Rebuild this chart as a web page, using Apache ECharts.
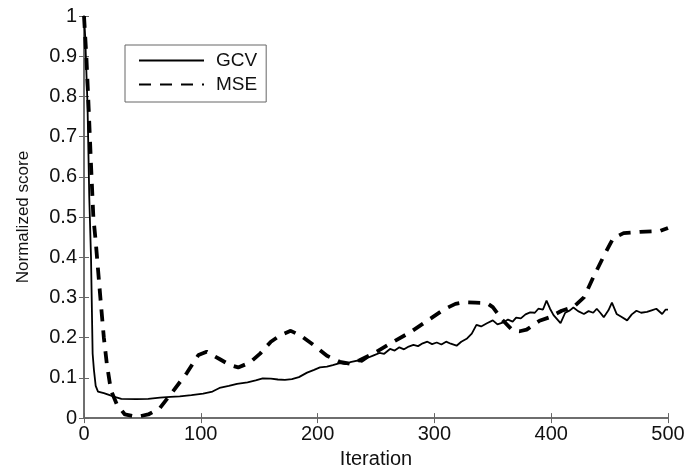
<!DOCTYPE html>
<html>
<head>
<meta charset="utf-8">
<script src="https://cdn.jsdelivr.net/npm/echarts@6/dist/echarts.min.js"></script>
<style>
  html, body { margin: 0; padding: 0; background: #fff; }
  #chart { width: 689px; height: 474px; }
</style>
</head>
<body>
<div id="chart"></div>
<script>
// values
const seriesNames = ['GCV', 'MSE'];
const xTicks = [0, 100, 200, 300, 400, 500];

const gcvIter = [0, 1, 3, 4.5, 6, 7.4, 8.5, 10, 12, 17, 22, 27, 32, 45, 55, 65, 74, 82, 92, 102,
  110, 116, 124, 131, 140, 147, 153, 160, 166, 172, 178, 184, 191, 197, 202, 208, 213, 219, 224, 228,
  234, 238, 243, 248, 253, 257, 262, 266, 270, 274, 278, 282, 286, 290, 294, 298, 302, 306, 310, 314,
  319, 323, 328, 332, 336, 340, 345, 350, 354, 359, 363, 367, 370, 374, 378, 382, 386, 389, 393, 396,
  399, 402, 405, 408, 412, 416, 419, 423, 428, 432, 436, 439, 442, 445, 449, 452, 456, 460, 465, 469,
  473, 477, 482, 486, 490, 495, 498, 500];
const gcvScore = [1.0, 0.95, 0.78, 0.55, 0.4, 0.16, 0.12, 0.08, 0.066, 0.062, 0.057, 0.052, 0.048, 0.047, 0.048, 0.051, 0.053, 0.054, 0.057, 0.061,
  0.066, 0.075, 0.08, 0.085, 0.089, 0.094, 0.099, 0.098, 0.096, 0.095, 0.097, 0.102, 0.113, 0.12, 0.126, 0.128, 0.132, 0.137, 0.134, 0.139,
  0.143, 0.14, 0.15, 0.156, 0.162, 0.16, 0.172, 0.168, 0.176, 0.171, 0.178, 0.182, 0.179, 0.186, 0.19, 0.184, 0.188, 0.183, 0.19, 0.185,
  0.18, 0.19, 0.198, 0.21, 0.232, 0.228, 0.236, 0.243, 0.233, 0.238, 0.245, 0.24, 0.25, 0.248, 0.258, 0.263, 0.262, 0.272, 0.27, 0.292,
  0.272, 0.256, 0.246, 0.236, 0.262, 0.268, 0.275, 0.266, 0.259, 0.266, 0.262, 0.272, 0.262, 0.251, 0.268, 0.287, 0.259, 0.252, 0.243, 0.258,
  0.267, 0.262, 0.264, 0.268, 0.272, 0.259, 0.27, 0.27];

const mseIter = [0, 2, 4, 6, 8, 10, 12, 14, 17, 19.5, 23, 28, 35, 45, 55, 65, 76, 88, 98, 105,
  116, 125, 132, 142, 151, 160, 168, 177, 185, 196, 208, 219, 228, 236, 248, 262, 279, 296, 308, 318,
  325, 335, 345, 350, 358, 367, 373, 379, 390, 398, 409, 419, 428, 436, 445, 453, 462, 476, 493, 500];
const mseScore = [1.0, 0.9, 0.77, 0.63, 0.5, 0.44, 0.37, 0.3, 0.2, 0.136, 0.07, 0.035, 0.009, 0.003, 0.009, 0.025, 0.066, 0.112, 0.157, 0.165,
  0.147, 0.132, 0.126, 0.138, 0.161, 0.19, 0.206, 0.217, 0.206, 0.183, 0.155, 0.14, 0.135, 0.144, 0.161, 0.185, 0.213, 0.246, 0.27, 0.284,
  0.288, 0.287, 0.286, 0.276, 0.245, 0.218, 0.216, 0.22, 0.242, 0.25, 0.267, 0.276, 0.3, 0.35, 0.403, 0.447, 0.46, 0.463, 0.465, 0.473];

const pair = (xs, ys) => xs.map((x, i) => [x, ys[i]]);

const chart = echarts.init(document.getElementById('chart'), null, { renderer: 'canvas' });

const axisGray = '#666';
const font = 'Liberation Sans, Arial, sans-serif';

const frameAxis = {
  type: 'value',
  min: 0,
  axisLine: { show: true, lineStyle: { color: axisGray, width: 1.5 } },
  axisTick: { show: true, inside: true, length: 5, lineStyle: { color: axisGray, width: 1 } },
  splitLine: { show: false },
};

const option = {
  backgroundColor: '#fff',
  animation: false,
  grid: { left: 84, right: 21, top: 16, bottom: 52 },
  legend: {
    data: seriesNames,
    orient: 'vertical',
    left: 125,
    top: 45,
    padding: [6, 9, 8, 13],
    itemGap: 5,
    itemWidth: 65,
    itemHeight: 14,
    borderColor: axisGray,
    borderWidth: 1,
    backgroundColor: '#fff',
    // hide the marker dot, keep only the line sample
    itemStyle: { opacity: 0 },
    textStyle: { fontFamily: font, fontSize: 19, color: '#111', padding: [0, 0, 0, 7] },
  },
  xAxis: [
    Object.assign({}, frameAxis, {
      position: 'bottom',
      max: xTicks[xTicks.length - 1],
      interval: 100,
      name: 'Iteration',
      nameLocation: 'middle',
      nameGap: 27,
      nameTextStyle: { fontFamily: font, fontSize: 20, color: '#111' },
      axisLabel: { margin: 6, fontFamily: font, fontSize: 20, color: '#111' },
    }),
    Object.assign({}, frameAxis, {
      position: 'top',
      max: 500,
      interval: 100,
      axisLabel: { show: false },
    }),
  ],
  yAxis: [
    Object.assign({}, frameAxis, {
      position: 'left',
      max: 1,
      interval: 0.1,
      name: 'Normalized score',
      nameLocation: 'middle',
      nameGap: 52,
      nameTextStyle: { fontFamily: font, fontSize: 17, color: '#111' },
      axisLabel: {
        margin: 7, fontFamily: font, fontSize: 20, color: '#111',
        formatter: v => String(Math.round(v * 10) / 10),
      },
    }),
    Object.assign({}, frameAxis, {
      position: 'right',
      max: 1,
      interval: 0.1,
      axisLabel: { show: false },
    }),
  ],
  series: [
    {
      name: seriesNames[0],
      type: 'line',
      data: pair(gcvIter, gcvScore),
      symbol: 'none',
      lineStyle: { color: '#000', width: 1.8 },
      itemStyle: { color: '#000' },
      z: 3,
    },
    {
      name: seriesNames[1],
      type: 'line',
      data: pair(mseIter, mseScore),
      symbol: 'none',
      lineStyle: { color: '#000', width: 3.8, type: [12, 9] },
      itemStyle: { color: '#000' },
      z: 2,
    },
  ],
};

chart.setOption(option);
</script>
</body>
</html>
